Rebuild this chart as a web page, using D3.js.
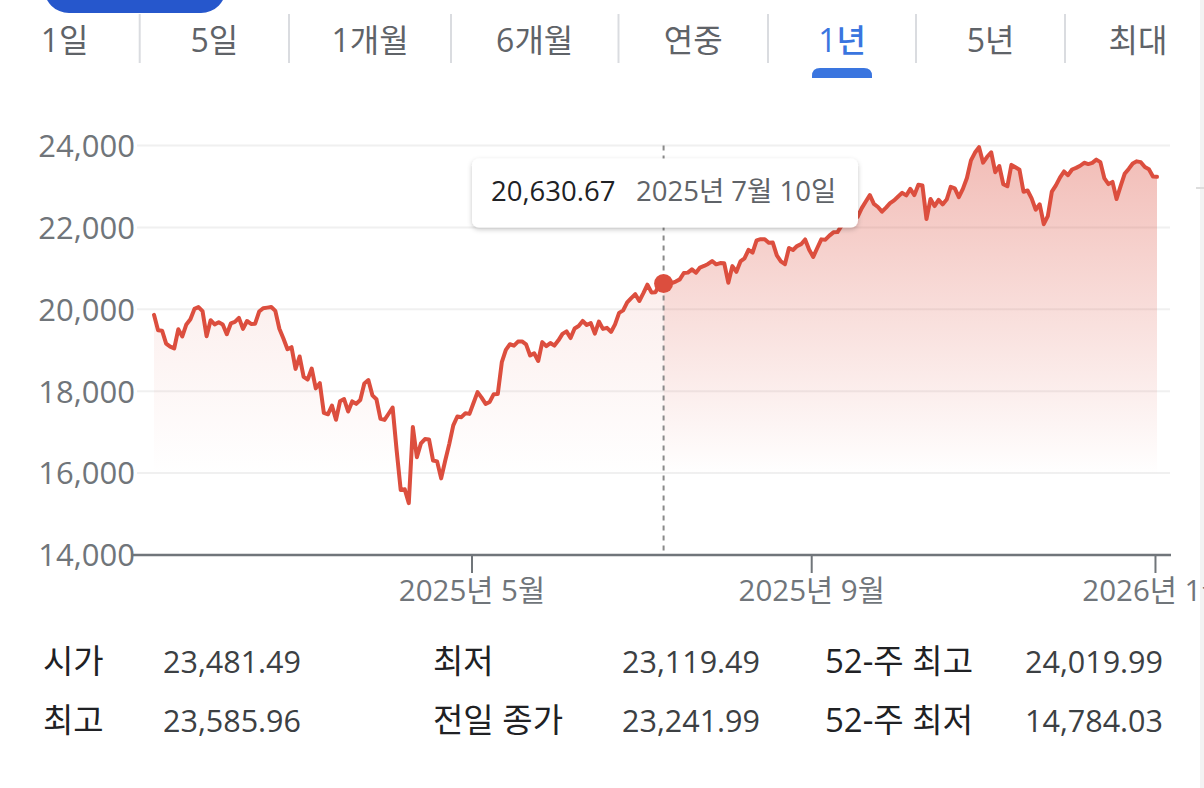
<!DOCTYPE html>
<html><head><meta charset="utf-8">
<script src="https://cdn.jsdelivr.net/npm/d3@7"></script>
<style>
html,body{margin:0;padding:0;background:#fff;overflow:hidden}
svg{display:block}
text{font-family:"Open Sans","Noto Sans CJK KR","Noto Sans",Roboto,sans-serif}
</style></head>
<body><svg id="c" width="1204" height="788"></svg>
<script>
// ---------------- data ----------------
const tabLabels = ["1일","5일","1개월","6개월","연중","1년","5년","최대"];
const selectedTab = "1년";
const startDay = "2025-01-06";
const endDay = "2026-01-02";
const holidays = ["2025-01-09","2025-01-20","2025-02-17","2025-04-18","2025-05-26","2025-06-19",
  "2025-07-04","2025-09-01","2025-11-27","2025-12-25","2026-01-01"];
const jan25 = [19864.98,19489.68,19478.88,19161.63,19088.10,19044.39,19511.23,19338.29,19630.20,19756.78,20009.34,20053.68,19954.30,19341.83,19733.59,19632.32,19681.75,19627.44];
const feb25 = [19391.96,19654.02,19692.33,19791.99,19523.40,19714.27,19643.86,19649.95,19945.64,20026.77,20041.26,20056.25,19962.36,19524.01,19286.93,19026.39,19075.26,18544.42,18847.28];
const mar25 = [18350.19,18285.16,18552.73,18069.26,18196.22,17468.32,17436.10,17648.45,17303.01,17754.09,17808.66,17504.12,17750.79,17691.63,17784.05,18188.59,18271.86,17899.02,17804.03,17322.99,17299.29];
const apr25 = [17449.89,17601.05,16550.61,15587.79,15603.26,15267.91,17124.97,16387.31,16724.46,16831.48,16823.17,16307.16,16286.45,15870.90,16300.42,16708.05,17166.04,17382.94,17366.13,17461.32,17446.34];
const may25 = [17710.74,17977.73,17844.24,17689.66,17738.16,17928.14,17928.92,18708.34,19010.09,19146.81,19112.32,19211.10,19215.46,19142.71,18872.64,18925.74,18737.21,19199.16,19100.94,19175.87,19113.77];
const jun25 = [19242.61,19398.96,19460.49,19298.45,19529.95,19591.24,19714.99,19615.88,19662.49,19406.83,19701.21,19521.09,19546.27,19447.41,19630.97,19912.53,19973.55,20167.91,20273.46,20369.73];
const jul25 = [20202.89,20393.13,20601.10,20412.52,20418.46,20611.34,20630.67,20585.53,20640.33,20677.80,20730.49,20885.65,20895.66,20974.17,20892.69,21020.02,21057.96,21108.32,21178.58,21098.29,21129.67,21122.45];
const aug25 = [20650.13,21053.58,20916.55,21169.42,21242.70,21450.02,21385.40,21681.90,21713.14,21710.67,21622.98,21629.77,21314.95,21172.86,21100.31,21496.54,21449.29,21544.27,21590.14,21705.16,21455.55];
const sep25 = [21279.63,21497.73,21707.69,21700.39,21798.70,21879.49,21886.06,22043.07,22141.10,22348.75,22333.96,22261.33,22470.73,22631.48,22788.98,22573.47,22497.86,22384.70,22484.07,22591.15,22660.01];
const oct25 = [22755.16,22844.05,22780.51,22941.67,22788.36,23043.38,23024.63,22204.43,22694.61,22521.70,22670.08,22562.54,22679.97,22990.54,22953.67,22740.40,22941.80,23204.87,23637.46,23827.49,23958.47,23581.14,23724.96];
const nov25 = [23834.72,23348.64,23499.80,23053.99,23004.54,23527.17,23468.30,23406.46,22870.36,22900.59,22708.07,22432.85,22564.23,22078.05,22273.08,22872.01,23025.59,23214.69,23365.69];
const dec25 = [23275.92,23413.67,23454.09,23505.14,23578.13,23545.90,23576.49,23654.16,23593.86,23195.17,23057.41,23111.46,22693.32,23006.36,23307.62,23428.83,23561.84,23613.31,23593.10,23474.35,23419.08,23241.99];
const jan26 = [23235.63];
const yTicks = [14000,16000,18000,20000,22000,24000];
const xTickMonths = ["2025-05","2025-09","2026-01"];
const hoverDay = "2025-07-10";
const statLabels = ["시가","최고","최저","전일 종가","52-주 최고","52-주 최저"];
const statValues = [23481.49,23585.96,23119.49,23241.99,24019.99,14784.03];

// ---------------- build series ----------------
const closes = [].concat(jan25,feb25,mar25,apr25,may25,jun25,jul25,aug25,sep25,oct25,nov25,dec25,jan26);
const parse = d3.utcParse("%Y-%m-%d"), fmtDay = d3.utcFormat("%Y-%m-%d");
const hol = new Set(holidays);
const dates = [];
for (let d = parse(startDay); d <= parse(endDay); d = d3.utcDay.offset(d,1)) {
  const wd = d.getUTCDay();
  if (wd === 0 || wd === 6 || hol.has(fmtDay(d))) continue;
  dates.push(d);
}
const data = dates.map((d,i)=>({i, date:d, v:closes[i]})).filter(d=>d.v!=null);

// ---------------- drawing ----------------
const svg = d3.select("#c");
const W = 1204, H = 788;
const RED = "#dc4e3e";
const FONT = '"Open Sans","Noto Sans CJK KR","Noto Sans",Roboto,sans-serif';

const defs = svg.append("defs");
const mkGrad = (id, top) => {
  const g = defs.append("linearGradient").attr("id",id).attr("gradientUnits","userSpaceOnUse")
    .attr("x1",0).attr("x2",0).attr("y1",145).attr("y2",475);
  g.append("stop").attr("offset","0%").attr("stop-color",RED).attr("stop-opacity",top);
  g.append("stop").attr("offset","100%").attr("stop-color",RED).attr("stop-opacity",0);
};
mkGrad("gLeft",0.17);
mkGrad("gRight",0.38);
const f = defs.append("filter").attr("id","sh").attr("x","-10%").attr("y","-30%").attr("width","120%").attr("height","170%");
f.append("feDropShadow").attr("dx",0).attr("dy",2).attr("stdDeviation",2.5).attr("flood-color","#000").attr("flood-opacity",0.22);

// top blue button (partially visible)
svg.append("rect").attr("x",44).attr("y",-38).attr("width",182).attr("height",51).attr("rx",25).attr("fill","#2657cc");

// tabs
const tabEdges = [-10,139.7,289,451,618.5,768,916,1065,1211];
const tabCenters = [64.5,214.4,370,534.7,693.2,842,990.5,1138];
const tabs = svg.append("g");
tabLabels.forEach((t,k)=>{
  tabs.append("text").attr("x", tabCenters[k]).attr("y",52).attr("text-anchor","middle")
    .attr("font-size",32).attr("font-weight", t===selectedTab?500:400)
    .attr("fill", t===selectedTab?"#3a75df":"#5f6368").text(t);
  if (k>0) tabs.append("line").attr("x1",tabEdges[k]).attr("x2",tabEdges[k]).attr("y1",14).attr("y2",63)
    .attr("stroke","#dadce0").attr("stroke-width",2);
  if (t===selectedTab) {
    const x0 = 812, x1 = 872, yT = 68, yB = 78, r = 8;
    tabs.append("path").attr("d",`M${x0},${yB}V${yT+r}Q${x0},${yT} ${x0+r},${yT}H${x1-r}Q${x1},${yT} ${x1},${yT+r}V${yB}Z`)
      .attr("fill","#3a75df");
  }
});
// right-edge panel hint
svg.append("rect").attr("x",1200).attr("y",0).attr("width",4).attr("height",H).attr("fill","#f3f3f3");
svg.append("line").attr("x1",1196).attr("x2",1204).attr("y1",188).attr("y2",188).attr("stroke","#dddddd").attr("stroke-width",2);

// scales
const x = d3.scaleLinear().domain([0, data.length-1]).range([154, 1157]);
const y = d3.scaleLinear().domain([14000, 24000]).range([555, 145.5]);

// gridlines
svg.append("g").selectAll("line").data(yTicks.filter(t=>t>14000)).join("line")
  .attr("x1",137).attr("x2",1170).attr("y1",d=>y(d)).attr("y2",d=>y(d))
  .attr("stroke","#f0f0f0").attr("stroke-width",2);

// y axis labels
const yAx = svg.append("g").attr("transform","translate(136,0)")
  .call(d3.axisLeft(y).tickValues(yTicks).tickFormat(d3.format(",")).tickSize(0).tickPadding(1));
yAx.select(".domain").remove();
yAx.selectAll("text").attr("font-size",31).attr("fill","#70757a").attr("dy","0.35em").style("font-family",FONT);

// area + line
const area = d3.area().x(d=>x(d.i)).y0(y(14000)).y1(d=>y(d.v));
const line = d3.line().x(d=>x(d.i)).y(d=>y(d.v));
const hoverIdx = data.findIndex(d=>fmtDay(d.date)===hoverDay);
const hx = x(hoverIdx);
defs.append("clipPath").attr("id","cL").append("rect").attr("x",0).attr("y",0).attr("width",hx).attr("height",H);
defs.append("clipPath").attr("id","cR").append("rect").attr("x",hx).attr("y",0).attr("width",W-hx).attr("height",H);
svg.append("path").datum(data).attr("d",area).attr("fill","url(#gLeft)").attr("clip-path","url(#cL)");
svg.append("path").datum(data).attr("d",area).attr("fill","url(#gRight)").attr("clip-path","url(#cR)");

// x axis
const monthStartIdx = m => data.findIndex(d=>fmtDay(d.date).slice(0,7)===m) - 0.5;
const xTickVals = xTickMonths.map(monthStartIdx);
const xAx = svg.append("g").attr("transform",`translate(0,${y(14000)})`)
  .call(d3.axisBottom(x).tickValues(xTickVals).tickSize(18).tickPadding(7)
    .tickFormat((d,k)=>{const [yy,mm]=xTickMonths[k].split("-"); return `${yy}년 ${+mm}월`;}));
xAx.select(".domain").remove();
xAx.selectAll(".tick line").attr("stroke","#70757a").attr("stroke-width",2);
xAx.selectAll("text").attr("font-size",29.5).attr("fill","#70757a").style("font-family",FONT);
svg.append("line").attr("x1",131).attr("x2",1171).attr("y1",y(14000)).attr("y2",y(14000))
  .attr("stroke","#70757a").attr("stroke-width",2.5);

// crosshair
svg.append("line").attr("x1",hx).attr("x2",hx).attr("y1",y(24000)).attr("y2",y(14000)-3)
  .attr("stroke","#8a8a8a").attr("stroke-width",2).attr("stroke-dasharray","5,5");

svg.append("path").datum(data).attr("d",line).attr("fill","none").attr("stroke",RED)
  .attr("stroke-width",4).attr("stroke-linejoin","round").attr("stroke-linecap","round");

svg.append("circle").attr("cx",hx).attr("cy",y(data[hoverIdx].v)).attr("r",9.5).attr("fill",RED);

// tooltip
const tip = svg.append("g");
tip.append("rect").attr("x",472).attr("y",158.5).attr("width",386).attr("height",69).attr("rx",7)
  .attr("fill","#fff").attr("filter","url(#sh)");
tip.append("text").attr("x",491).attr("y",201).attr("font-size",27.5).attr("fill","#202124")
  .text(d3.format(",.2f")(data[hoverIdx].v));
const hd = data[hoverIdx].date;
tip.append("text").attr("x",636).attr("y",201).attr("font-size",27.5).attr("fill","#5f6368")
  .text(`${hd.getUTCFullYear()}년 ${hd.getUTCMonth()+1}월 ${hd.getUTCDate()}일`);

// stats
const colLabelX = [43,433,825], colValX = [163,622,1025], rowY = [673,732];
const fmt2 = d3.format(",.2f");
statLabels.forEach((lab,k)=>{
  const c = Math.floor(k/2), r = k%2;
  svg.append("text").attr("x",colLabelX[c]).attr("y",rowY[r]).attr("font-size",33).attr("fill","#202124").text(lab);
  svg.append("text").attr("x",colValX[c]).attr("y",rowY[r]).attr("font-size",30.5).attr("fill","#3c4043").text(fmt2(statValues[k]));
});
</script></body></html>
